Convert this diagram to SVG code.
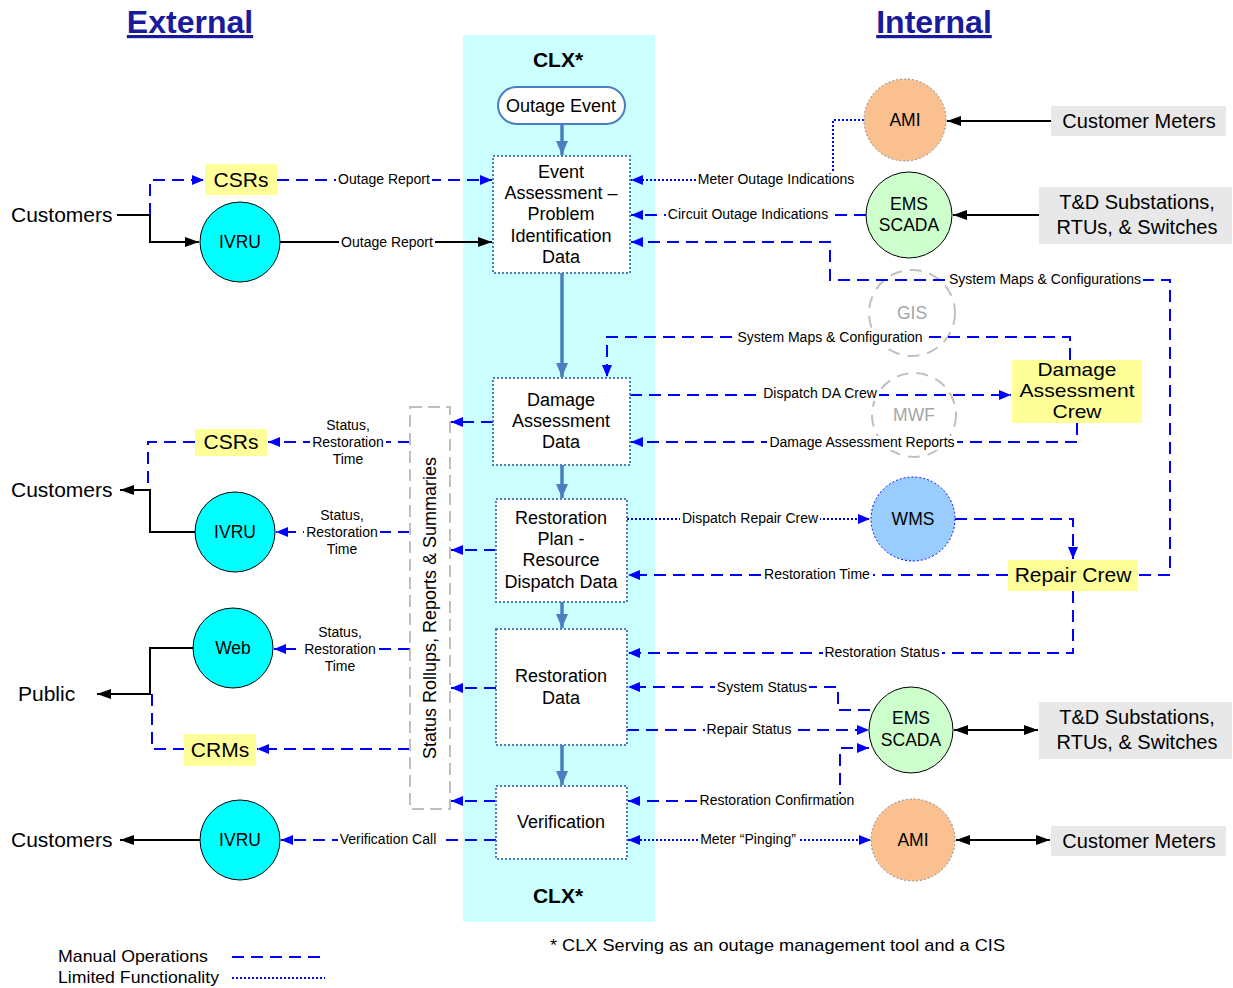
<svg xmlns="http://www.w3.org/2000/svg" width="1233" height="988" viewBox="0 0 1233 988">
<style>
text{font-family:"Liberation Sans",Arial,sans-serif;fill:#000}
.t{font-size:18px;text-anchor:middle}
.c{font-size:17.5px;text-anchor:middle}
.b{font-size:21px}
.bm{font-size:21px;text-anchor:middle}
.r{font-size:20px;text-anchor:middle}
.l{font-size:14px;text-anchor:middle}
.lb{fill:#fff}
.ttl{font-size:32px;font-weight:bold;fill:#1a1a9c;text-anchor:middle;text-decoration:underline}
.clx{font-size:21px;font-weight:bold;text-anchor:middle}
.d{fill:none;stroke:#0000FF;stroke-width:2;stroke-dasharray:12 7}
.o{fill:none;stroke:#0000FF;stroke-width:2;stroke-dasharray:2 2}
.k{fill:none;stroke:#000;stroke-width:2}
.s{fill:none;stroke:#4A7EC1;stroke-width:3.5}
.box{fill:#fff;stroke:#4A7EC1;stroke-width:2;stroke-dasharray:2 2}
.y{fill:#FFFF99}
.g{fill:#E8E8E8}
.cy{fill:#00FFFF;stroke:#000;stroke-width:1}
.gr{fill:none;stroke:#C0C0C0;stroke-width:2;stroke-dasharray:12 8}
.gt{font-size:17.5px;text-anchor:middle;fill:#A6A6A6}
.am{fill:#FAC090;stroke:#8c8c8c;stroke-width:1;stroke-dasharray:2 2}
.em{fill:#CCFFCC;stroke:#000;stroke-width:1}
</style>
<defs>
<marker id="ab" viewBox="0 0 12 10" refX="12" refY="5" markerWidth="12" markerHeight="10" markerUnits="userSpaceOnUse" orient="auto-start-reverse"><path d="M0,0L12,5L0,10z" fill="#0000FF"/></marker>
<marker id="ak" viewBox="0 0 14 10" refX="14" refY="5" markerWidth="14" markerHeight="10" markerUnits="userSpaceOnUse" orient="auto-start-reverse"><path d="M0,0L14,5L0,10z" fill="#000"/></marker>
<marker id="as" viewBox="0 0 14 12" refX="14" refY="6" markerWidth="14" markerHeight="12" markerUnits="userSpaceOnUse" orient="auto"><path d="M0,0L14,6L0,12z" fill="#4A7EC1"/></marker>
</defs>
<rect width="1233" height="988" fill="#fff"/>
<text class="ttl" x="190" y="33">External</text>
<text class="ttl" x="934" y="33">Internal</text>
<rect id="clx-band" x="463" y="35" width="192" height="887" fill="#CCFFFF"/>
<text class="clx" x="558" y="67">CLX*</text>
<text class="clx" x="558" y="903">CLX*</text>

<g id="gis"><circle class="gr" cx="912" cy="313" r="43"/><text class="gt" x="912" y="319">GIS</text></g>
<g id="mwf"><circle class="gr" cx="914" cy="415" r="42"/><text class="gt" x="914" y="421">MWF</text></g>

<g id="connectors">
<path class="s" d="M562,124V155" marker-end="url(#as)"/>
<path class="s" d="M562,273V377" marker-end="url(#as)"/>
<path class="s" d="M562,465V498" marker-end="url(#as)"/>
<path class="s" d="M562,602V628" marker-end="url(#as)"/>
<path class="s" d="M562,745V785" marker-end="url(#as)"/>

<path class="k" d="M117,215H150V242H199" marker-end="url(#ak)"/>
<path class="d" d="M150,215V180H204" marker-end="url(#ab)"/>
<path class="d" d="M277,180H492" marker-end="url(#ab)"/>
<path class="k" d="M280,242H492" marker-end="url(#ak)"/>
<path class="o" d="M864,120H833V180H631" marker-end="url(#ab)"/>
<path class="d" d="M866,215H631" marker-end="url(#ab)"/>
<path class="d" d="M1139,575H1170V280H830V242H631" marker-end="url(#ab)"/>
<path class="k" d="M1051,121H947" marker-end="url(#ak)"/>
<path class="k" d="M1039,215H953" marker-end="url(#ak)"/>

<path class="d" d="M1070,360V337H607V377" marker-end="url(#ab)"/>
<path class="d" d="M630,395H1011" marker-end="url(#ab)"/>
<path class="d" d="M1077,423V442H631" marker-end="url(#ab)"/>
<path class="o" d="M627,519H870" marker-end="url(#ab)"/>
<path class="d" d="M955,519H1073V559" marker-end="url(#ab)"/>
<path class="d" d="M1008,575H628" marker-end="url(#ab)"/>
<path class="d" d="M1073,591V653H628" marker-end="url(#ab)"/>
<path class="d" d="M870,710H838V687H628" marker-end="url(#ab)"/>
<path class="d" d="M627,730H869" marker-end="url(#ab)"/>
<path class="d" d="M628,801H840V748H869" marker-start="url(#ab)" marker-end="url(#ab)"/>
<path class="o" d="M628,840H871" marker-start="url(#ab)" marker-end="url(#ab)"/>
<path class="k" d="M954,730H1038" marker-start="url(#ak)" marker-end="url(#ak)"/>
<path class="k" d="M956,840H1050" marker-start="url(#ak)" marker-end="url(#ak)"/>

<path class="d" d="M493,422H451" marker-end="url(#ab)"/>
<path class="d" d="M496,550H451" marker-end="url(#ab)"/>
<path class="d" d="M496,688H451" marker-end="url(#ab)"/>
<path class="d" d="M496,801H451" marker-end="url(#ab)"/>

<path class="d" d="M410,442H268" marker-end="url(#ab)"/>
<path class="d" d="M195,442H148V488"/>
<path class="k" d="M195,532H150V490H120" marker-end="url(#ak)"/>
<path class="d" d="M410,532H276" marker-end="url(#ab)"/>
<path class="d" d="M410,649H274" marker-end="url(#ab)"/>
<path class="k" d="M193,648H150V694H97" marker-end="url(#ak)"/>
<path class="d" d="M152,694V749H184"/>
<path class="d" d="M410,749H257" marker-end="url(#ab)"/>
<path class="d" d="M496,840H281" marker-end="url(#ab)"/>
<path class="k" d="M200,840H120" marker-end="url(#ak)"/>

<rect class="lb" x="336" y="173" width="96" height="14"/>
<rect class="lb" x="339" y="236" width="96" height="14"/>
<rect class="lb" x="696" y="173" width="160" height="14"/>
<rect class="lb" x="666" y="208" width="164" height="14"/>
<rect class="lb" x="947" y="273" width="196" height="14"/>
<rect class="lb" x="736" y="331" width="189" height="14"/>
<rect class="lb" x="761" y="387" width="118" height="14"/>
<rect class="lb" x="767" y="436" width="190" height="14"/>
<rect class="lb" x="680" y="512" width="140" height="14"/>
<rect class="lb" x="762" y="568" width="111" height="14"/>
<rect class="lb" x="823" y="646" width="119" height="14"/>
<rect class="lb" x="715" y="681" width="94" height="14"/>
<rect class="lb" x="705" y="723" width="89" height="14"/>
<rect class="lb" x="698" y="794" width="159" height="14"/>
<rect class="lb" x="698" y="833" width="100" height="14"/>
<rect class="lb" x="338" y="833" width="101" height="14"/>
<rect class="lb" x="310" y="436" width="76" height="14"/>
<rect class="lb" x="304" y="526" width="76" height="14"/>
<rect class="lb" x="302" y="643" width="76" height="14"/>

<text class="l" x="384" y="184">Outage Report</text>
<text class="l" x="387" y="247">Outage Report</text>
<text class="l" x="776" y="184">Meter Outage Indications</text>
<text class="l" x="748" y="219">Circuit Outage Indications</text>
<text class="l" x="1045" y="284">System Maps &amp; Configurations</text>
<text class="l" x="830" y="342">System Maps &amp; Configuration</text>
<text class="l" x="820" y="398">Dispatch DA Crew</text>
<text class="l" x="862" y="447">Damage Assessment Reports</text>
<text class="l" x="750" y="523">Dispatch Repair Crew</text>
<text class="l" x="817" y="579">Restoration Time</text>
<text class="l" x="882" y="657">Restoration Status</text>
<text class="l" x="762" y="692">System Status</text>
<text class="l" x="749" y="734">Repair Status</text>
<text class="l" x="777" y="805">Restoration Confirmation</text>
<text class="l" x="748" y="844">Meter “Pinging”</text>
<text class="l" x="388" y="844">Verification Call</text>
<text class="l" x="348" y="430">Status,</text>
<text class="l" x="348" y="447">Restoration</text>
<text class="l" x="348" y="464">Time</text>
<text class="l" x="342" y="520">Status,</text>
<text class="l" x="342" y="537">Restoration</text>
<text class="l" x="342" y="554">Time</text>
<text class="l" x="340" y="637">Status,</text>
<text class="l" x="340" y="654">Restoration</text>
<text class="l" x="340" y="671">Time</text>
</g>

<g id="outage-event"><rect x="498" y="87" width="127" height="37" rx="18.5" fill="#fff" stroke="#4A7EC1" stroke-width="2"/><text class="t" x="561" y="112">Outage Event</text></g>
<g id="event-assessment"><rect class="box" x="493" y="156" width="137" height="117"/>
<text class="t" x="561" y="178">Event</text><text class="t" x="561" y="199">Assessment –</text><text class="t" x="561" y="220">Problem</text><text class="t" x="561" y="242">Identification</text><text class="t" x="561" y="263">Data</text></g>
<g id="damage-assessment-data"><rect class="box" x="493" y="378" width="137" height="87"/>
<text class="t" x="561" y="406">Damage</text><text class="t" x="561" y="427">Assessment</text><text class="t" x="561" y="448">Data</text></g>
<g id="restoration-plan"><rect class="box" x="496" y="499" width="131" height="103"/>
<text class="t" x="561" y="524">Restoration</text><text class="t" x="561" y="545">Plan -</text><text class="t" x="561" y="566">Resource</text><text class="t" x="561" y="588">Dispatch Data</text></g>
<g id="restoration-data"><rect class="box" x="496" y="629" width="131" height="116"/>
<text class="t" x="561" y="682">Restoration</text><text class="t" x="561" y="704">Data</text></g>
<g id="verification"><rect class="box" x="496" y="786" width="131" height="73"/>
<text class="t" x="561" y="828">Verification</text></g>
<g id="status-rollups"><rect x="410" y="407" width="40" height="402" fill="none" stroke="#BFBFBF" stroke-width="2" stroke-dasharray="12 6"/>
<text x="0" y="0" font-size="18" text-anchor="middle" transform="translate(436,608) rotate(-90)">Status Rollups, Reports &amp; Summaries</text></g>

<g id="customers-1"><text class="b" x="11" y="222">Customers</text></g>
<g id="csrs-1"><rect class="y" x="205" y="164" width="72" height="31"/><text class="bm" x="241" y="187">CSRs</text></g>
<g id="ivru-1"><circle class="cy" cx="240" cy="242" r="40"/><text class="c" x="240" y="248">IVRU</text></g>
<g id="customers-2"><text class="b" x="11" y="497">Customers</text></g>
<g id="csrs-2"><rect class="y" x="195" y="429" width="72" height="27"/><text class="bm" x="231" y="449">CSRs</text></g>
<g id="ivru-2"><circle class="cy" cx="235" cy="532" r="40"/><text class="c" x="235" y="538">IVRU</text></g>
<g id="web"><circle class="cy" cx="233" cy="648" r="40"/><text class="c" x="233" y="654">Web</text></g>
<g id="public"><text class="b" x="18" y="701">Public</text></g>
<g id="crms"><rect class="y" x="184" y="734" width="72" height="32"/><text class="bm" x="220" y="757">CRMs</text></g>
<g id="customers-3"><text class="b" x="11" y="847">Customers</text></g>
<g id="ivru-3"><circle class="cy" cx="240" cy="840" r="40"/><text class="c" x="240" y="846">IVRU</text></g>

<g id="ami-1"><circle class="am" cx="905" cy="120" r="41"/><text class="c" x="905" y="126">AMI</text></g>
<g id="customer-meters-1"><rect class="g" x="1051" y="106" width="175" height="30"/><text class="r" x="1139" y="128">Customer Meters</text></g>
<g id="ems-scada-1"><circle class="em" cx="909" cy="215" r="43"/><text class="c" x="909" y="210">EMS</text><text class="c" x="909" y="231">SCADA</text></g>
<g id="td-1"><rect class="g" x="1039" y="187" width="193" height="57"/><text class="r" x="1137" y="209">T&amp;D Substations,</text><text class="r" x="1137" y="234">RTUs, &amp; Switches</text></g>
<g id="da-crew"><rect class="y" x="1012" y="360" width="130" height="63"/>
<text font-size="19" text-anchor="middle" x="1077" y="376" textLength="79" lengthAdjust="spacingAndGlyphs">Damage</text>
<text font-size="19" text-anchor="middle" x="1077" y="397" textLength="115" lengthAdjust="spacingAndGlyphs">Assessment</text>
<text font-size="19" text-anchor="middle" x="1077" y="418" textLength="49" lengthAdjust="spacingAndGlyphs">Crew</text></g>
<g id="wms"><circle cx="913" cy="519" r="42" fill="#99CCFF" stroke="#0000FF" stroke-width="1" stroke-dasharray="2 2"/><text class="c" x="913" y="525">WMS</text></g>
<g id="repair-crew"><rect class="y" x="1008" y="560" width="130" height="31"/><text class="bm" x="1073" y="582">Repair Crew</text></g>
<g id="ems-scada-2"><ellipse class="em" cx="911" cy="730" rx="42" ry="43"/><text class="c" x="911" y="724">EMS</text><text class="c" x="911" y="746">SCADA</text></g>
<g id="td-2"><rect class="g" x="1039" y="702" width="193" height="57"/><text class="r" x="1137" y="724">T&amp;D Substations,</text><text class="r" x="1137" y="749">RTUs, &amp; Switches</text></g>
<g id="ami-2"><ellipse class="am" cx="913" cy="840" rx="42" ry="41"/><text class="c" x="913" y="846">AMI</text></g>
<g id="customer-meters-2"><rect class="g" x="1051" y="826" width="175" height="30"/><text class="r" x="1139" y="848">Customer Meters</text></g>

<g id="legend">
<text x="550" y="951" font-size="17" textLength="455" lengthAdjust="spacingAndGlyphs">* CLX  Serving as an outage management tool  and a CIS</text>
<text x="58" y="962" font-size="17" textLength="150" lengthAdjust="spacingAndGlyphs">Manual Operations</text>
<text x="58" y="983" font-size="17" textLength="161" lengthAdjust="spacingAndGlyphs">Limited Functionality</text>
<path class="d" d="M232,957H325"/>
<path class="o" d="M232,978H325"/>
</g>
</svg>
